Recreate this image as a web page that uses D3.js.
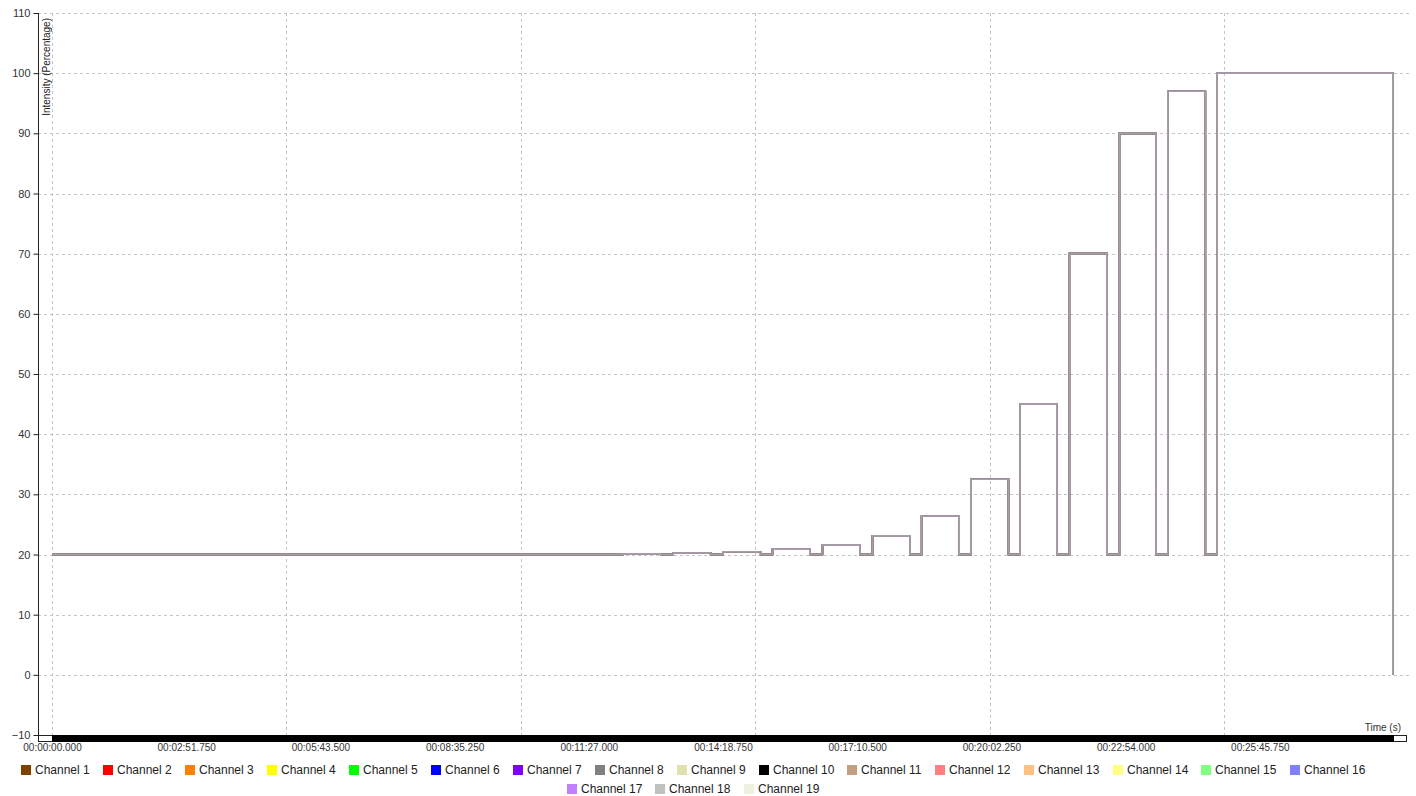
<!DOCTYPE html>
<html>
<head>
<meta charset="utf-8">
<script src="https://cdn.jsdelivr.net/npm/d3@7"></script>
<style>
  html, body { margin: 0; padding: 0; background: #fff; }
  svg { display: block; font-family: "Liberation Sans", Arial, sans-serif; }
</style>
</head>
<body>
<svg id="chart" width="1416" height="796"></svg>
<script>
// ---------------- DATA ----------------
const channelNames = ["Channel 1","Channel 2","Channel 3","Channel 4","Channel 5","Channel 6","Channel 7","Channel 8","Channel 9","Channel 10","Channel 11","Channel 12","Channel 13","Channel 14","Channel 15","Channel 16","Channel 17","Channel 18","Channel 19"];
const channelColors = ["#804000","#ff0000","#ff8000","#ffff00","#00ff00","#0000ff","#8000ff","#808080","#e0e0b0","#000000","#c0a080","#ff8080","#ffc080","#ffff80","#80ff80","#8080ff","#c080ff","#c0c0c0","#f0f0e0"];
// step change points (seconds) and intensity (%) shared by all channels
const timeSec   = [0, 731, 779, 795, 843, 859, 907, 922, 970, 986, 1034, 1050, 1098, 1113, 1161, 1176, 1224, 1239, 1286, 1302, 1350, 1366, 1413, 1428, 1476, 1491, 1716];
const intensity = [20, 20.1, 20, 20.25, 20, 20.45, 20, 20.9, 20, 21.6, 20, 23.1, 20, 26.4, 20, 32.5, 20, 45, 20, 70, 20, 90, 20, 97, 20, 100, 0];
const yTicks = [-10, 0, 10, 20, 30, 40, 50, 60, 70, 80, 90, 100, 110];
const xLabelTicks = [0, 171.75, 343.5, 515.25, 687, 858.75, 1030.5, 1202.25, 1374, 1545.75];
const xGridTicks = [0, 300, 600, 900, 1200, 1500];
const xDomain = [0, 1717.5];
const yDomain = [-10, 110];

// ---------------- LAYOUT ----------------
const svg = d3.select("#chart");
const x = d3.scaleLinear().domain(xDomain).range([52, 1394]);
const y = d3.scaleLinear().domain(yDomain).range([735, 13]);
const axisX = 38, gridRight = 1410;

function fmtTime(s) {
  const ms = Math.round(s * 1000);
  const h = Math.floor(ms / 3600000);
  const m = Math.floor((ms % 3600000) / 60000);
  const sec = Math.floor((ms % 60000) / 1000);
  const milli = ms % 1000;
  const p = (v, n) => String(v).padStart(n, "0");
  return `${p(h,2)}:${p(m,2)}:${p(sec,2)}.${p(milli,3)}`;
}

// horizontal grid
svg.append("g").selectAll("line").data(yTicks.filter(d => d > -10)).join("line")
  .attr("x1", axisX).attr("x2", gridRight)
  .attr("y1", d => Math.round(y(d)) + 0.5).attr("y2", d => Math.round(y(d)) + 0.5)
  .attr("stroke", "#c4c4c4").attr("stroke-dasharray", "3,3").attr("stroke-width", 1);

// vertical grid
svg.append("g").selectAll("line").data(xGridTicks).join("line")
  .attr("x1", d => Math.round(x(d)) + 0.5).attr("x2", d => Math.round(x(d)) + 0.5)
  .attr("y1", 13).attr("y2", 735)
  .attr("stroke", "#c4c4c4").attr("stroke-dasharray", "3,3").attr("stroke-width", 1);

// y axis
const yAxis = d3.axisLeft(y).tickValues(yTicks).tickSize(5).tickPadding(3);
const gy = svg.append("g").attr("transform", `translate(${axisX + 0.5},0)`).call(yAxis);
gy.select(".domain").attr("d", `M0,13V741`).attr("stroke", "#222");
gy.selectAll(".tick line").attr("stroke", "#222");
gy.selectAll(".tick text").attr("font-size", 11).attr("fill", "#333")
  .attr("font-family", "Liberation Sans, Arial, sans-serif");

// y axis title
svg.append("text")
  .attr("transform", "translate(50,18) rotate(-90)")
  .attr("text-anchor", "end")
  .attr("font-size", 10).attr("fill", "#222")
  .text("Intensity (Percentage)");

// x axis track + range bar
svg.append("rect").attr("x", axisX + 0.5).attr("y", 735.5).attr("width", 1406 - axisX).attr("height", 6)
  .attr("fill", "none").attr("stroke", "#222").attr("stroke-width", 1);
svg.append("rect").attr("x", x(xDomain[0])).attr("y", 735).attr("width", x(xDomain[1]) - x(xDomain[0])).attr("height", 7)
  .attr("fill", "#000");

// x tick labels
const xAxis = d3.axisBottom(x).tickValues(xLabelTicks).tickSize(0).tickPadding(0).tickFormat(fmtTime);
const gx = svg.append("g").attr("transform", "translate(0,744)").call(xAxis);
gx.select(".domain").remove();
gx.selectAll(".tick text").attr("font-size", 10).attr("fill", "#333").attr("dy", "0.71em")
  .attr("font-family", "Liberation Sans, Arial, sans-serif");

// x axis title
svg.append("text").attr("x", 1401).attr("y", 731).attr("text-anchor", "end")
  .attr("font-size", 10).attr("fill", "#333").text("Time (s)");

// line filter (darkens the overlapped channel traces)
const defs = svg.append("defs");
const f = defs.append("filter").attr("id", "dim").attr("filterUnits", "userSpaceOnUse")
  .attr("x", 0).attr("y", 0).attr("width", 1416).attr("height", 796);
const ct = f.append("feComponentTransfer");
ct.append("feFuncR").attr("type", "linear").attr("slope", 0.6);
ct.append("feFuncG").attr("type", "linear").attr("slope", 0.55);
ct.append("feFuncB").attr("type", "linear").attr("slope", 0.58);

const points = timeSec.map((t, i) => ({ t, v: intensity[i] }));
const line = d3.line().x(d => x(d.t)).y(d => y(d.v)).curve(d3.curveStepAfter);
const lines = svg.append("g").attr("filter", "url(#dim)");
channelNames.forEach((name, i) => {
  lines.append("path").datum(points)
    .attr("fill", "none").attr("stroke", channelColors[i])
    .attr("stroke-width", 1.6).attr("stroke-opacity", 0.5)
    .attr("d", line);
});

// legend
const legend = svg.append("g").attr("font-size", 12).attr("fill", "#222");
const items = channelNames.map((n, i) => {
  const g = legend.append("g");
  g.append("rect").attr("width", 10).attr("height", 10).attr("fill", channelColors[i]);
  const t = g.append("text").attr("x", 14).attr("y", 9).text(n);
  return { g, w: 14 + t.node().getComputedTextLength() };
});
const gap = 13.3, maxW = 1380, centerX = 693, rowY = [765, 784];
const rows = [[]];
let cur = 0;
items.forEach(it => {
  const add = (rows[rows.length - 1].length ? gap : 0) + it.w;
  if (cur + add > maxW) { rows.push([]); cur = it.w; }
  else cur += add;
  rows[rows.length - 1].push(it);
});
rows.forEach((r, ri) => {
  const total = d3.sum(r, d => d.w) + gap * (r.length - 1);
  let xx = centerX - total / 2;
  r.forEach(it => {
    it.g.attr("transform", `translate(${Math.round(xx)},${rowY[ri]})`);
    xx += it.w + gap;
  });
});
</script>
</body>
</html>
